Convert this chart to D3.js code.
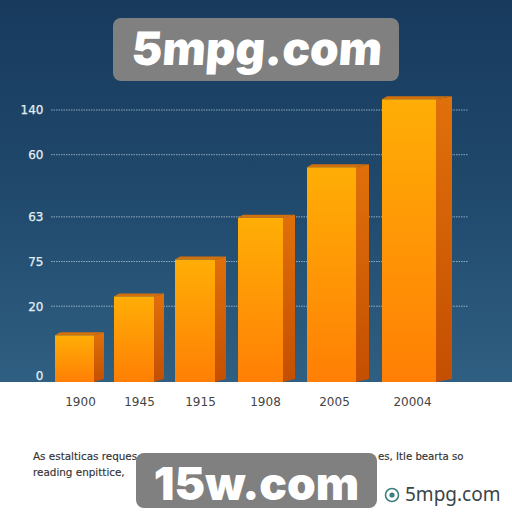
<!DOCTYPE html>
<html>
<head>
<meta charset="utf-8">
<script src="https://cdn.jsdelivr.net/npm/d3@7/dist/d3.min.js"></script>
<style>
html,body{margin:0;padding:0;background:#fff}
svg{display:block}
</style>
</head>
<body>
<svg id="chart" width="512" height="512"></svg>
<script>
const categories = ["1900","1945","1915","1908","2005","20004"];
const values = [24,44,63,84.5,110.5,145.5];
const gridValues = [39,62,85,117,140];
const tickValues = [0,39,62,85,117,140];
const tickLabels = ["0","20","75","63","60","140"];
const captionLeft = ["As estalticas reques","reading enpittice,"];
const captionRight = ["es, Itle bearta so"];

const svg = d3.select("#chart");
const defs = svg.append("defs");

function grad(id, stops, x2, y2){
  const g = defs.append("linearGradient").attr("id",id)
    .attr("x1",0).attr("y1",0).attr("x2",x2).attr("y2",y2);
  stops.forEach(s=>g.append("stop").attr("offset",s[0]).attr("stop-color",s[1]));
}
grad("bg",[[0,"#173a5d"],[0.5,"#20496c"],[1,"#2f5f82"]],0,1);
grad("front",[[0,"#ffae06"],[1,"#ff7f05"]],0,1);
grad("side",[[0,"#e0700a"],[1,"#c44f02"]],0,1);

const y = d3.scaleLinear().domain([0,140]).range([382,110]);
const idx = categories.map((_,i)=>i);
const xLeft = d3.scaleLinear().domain(idx).range([55,114,175,238,307,382]);
const bw = d3.scaleLinear().domain(idx).range([39,40,40,45,49,54]);
const depth = d3.scaleLinear().domain(idx).range([10,10,11,12,13,16]);
const xLabel = d3.scaleOrdinal().domain(categories).range([80,139,200,265,334,412]);

svg.append("rect").attr("width",512).attr("height",382).attr("fill","url(#bg)");

svg.append("g").selectAll("line").data(gridValues).join("line")
  .attr("x1",51).attr("x2",468)
  .attr("y1",d=>y(d)).attr("y2",d=>y(d))
  .attr("stroke","#c9dbe6").attr("stroke-width",0.9).attr("stroke-opacity",0.75)
  .attr("stroke-dasharray","1.5 1");

const cap = 3;
const bars = svg.append("g").selectAll("g").data(values).join("g");
bars.append("path").attr("fill","url(#side)")
  .attr("d",(d,i)=>{
    const x=xLeft(i)+bw(i), t=y(d), b=y(0), dp=depth(i);
    return `M${x},${t}L${x+dp},${t-cap}L${x+dp},${b-3}L${x},${b}Z`;
  });
bars.append("path").attr("fill","#d4700c")
  .attr("d",(d,i)=>{
    const x=xLeft(i), w=bw(i), t=y(d), dp=depth(i);
    return `M${x},${t}L${x+5},${t-cap}L${x+w+dp},${t-cap}L${x+w},${t}Z`;
  });
bars.append("rect").attr("fill","url(#front)")
  .attr("x",(d,i)=>xLeft(i)).attr("width",(d,i)=>bw(i))
  .attr("y",d=>y(d)).attr("height",d=>y(0)-y(d));

const yAxis = svg.append("g").attr("transform","translate(43.5,0)")
  .call(d3.axisLeft(y).tickValues(tickValues).tickSize(0).tickPadding(0)
    .tickFormat((d,i)=>tickLabels[i]));
yAxis.select(".domain").remove();
yAxis.selectAll("text")
  .attr("font-family","'DejaVu Sans',sans-serif").attr("font-size",12)
  .attr("fill","#e4eef3").attr("font-weight",500)
  .attr("stroke","#e4eef3").attr("stroke-width",0.25);
yAxis.selectAll(".tick").filter(d=>d===0).select("text").attr("dy","-0.18em");

const xAxis = svg.append("g").attr("transform","translate(0,397)")
  .call(d3.axisBottom(xLabel).tickSize(0).tickPadding(0));
xAxis.select(".domain").remove();
xAxis.selectAll("text")
  .attr("font-family","'DejaVu Sans',sans-serif").attr("font-size",12)
  .attr("fill","#444");

const captionFont = "'DejaVu Sans',sans-serif";
svg.append("g").selectAll("text").data(captionLeft).join("text")
  .attr("x",33).attr("y",(d,i)=>460+i*16)
  .attr("font-family",captionFont).attr("font-size",10.4)
  .attr("fill","#333").attr("stroke","#333").attr("stroke-width",0.15).text(d=>d);
svg.append("g").selectAll("text").data(captionRight).join("text")
  .attr("x",378).attr("y",460)
  .attr("font-family",captionFont).attr("font-size",10.2)
  .attr("fill","#333").attr("stroke","#333").attr("stroke-width",0.15).text(d=>d);

function badge(x,yy,w,h,label,fs,by,skew){
  svg.append("rect").attr("x",x).attr("y",yy).attr("width",w).attr("height",h)
    .attr("rx",8).attr("fill","#808080");
  svg.append("text")
    .attr("transform",`translate(${x+w/2},${by}) skewX(${skew})`)
    .attr("text-anchor","middle")
    .attr("font-family","Inter,Roboto,sans-serif").attr("font-weight",900)
    .attr("font-size",fs).attr("fill","#fff").text(label);
}
badge(113,18,286,63,"5mpg.com",46,65,-4);
badge(136,453,241,55,"15w.com",46,500,0);

svg.append("circle").attr("cx",392).attr("cy",495).attr("r",6.5)
  .attr("fill","none").attr("stroke","#3f7f80").attr("stroke-width",1.6);
svg.append("circle").attr("cx",392).attr("cy",495).attr("r",2.6).attr("fill","#3f7f80");
svg.append("text").attr("x",405).attr("y",501)
  .attr("font-family","'Noto Sans',sans-serif").attr("font-size",19)
  .attr("fill","#3a4548").text("5mpg.com");
</script>
</body>
</html>
